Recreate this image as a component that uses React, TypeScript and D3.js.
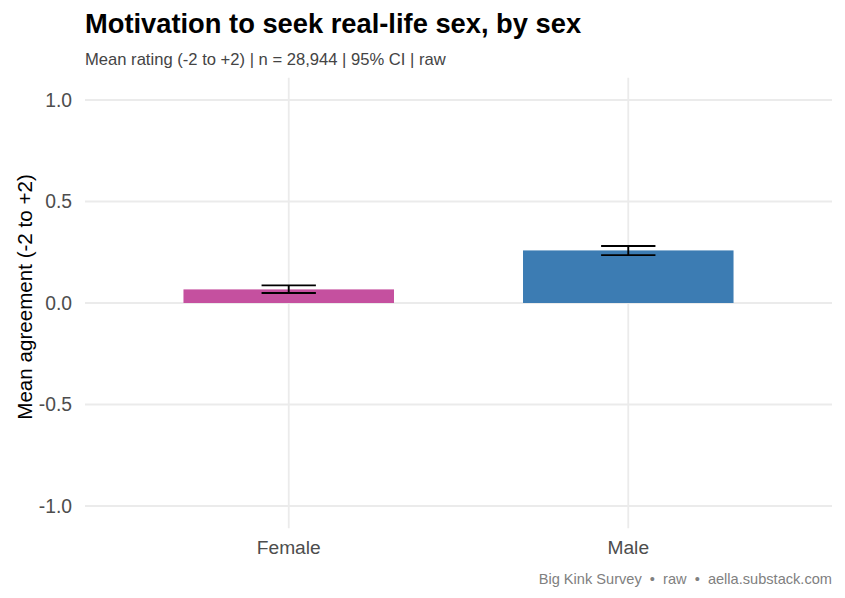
import React from 'react';
import * as d3 from 'd3';

const categories = ['Female', 'Male'];
const means = [0.067, 0.259];
const ciLow = [0.049, 0.236];
const ciHigh = [0.087, 0.281];
const barColors = ['#C5509F', '#3C7CB3'];
const yTicks = [-1.0, -0.5, 0.0, 0.5, 1.0];

const W = 845;
const H = 598;
const font = 'Liberation Sans, Arial, sans-serif';

const App: React.FC = () => {
  const left = 85;
  const right = 832;

  // discrete scale with ggplot-like 0.6 expansion
  const x = d3.scaleLinear().domain([0.4, 2.6]).range([left, right]);
  const y = d3.scaleLinear().domain([-1, 1]).range([506, 100]);
  const panelTop = y(1.11);
  const panelBottom = y(-1.11);
  const barW = (x(2) - x(1)) * 0.62;
  const capW = (x(2) - x(1)) * 0.16;
  const fmt = (t: number) => d3.format('.1f')(t).replace('\u2212', '-');

  return (
    <svg width={W} height={H} style={{ position: 'absolute', left: 0, top: 0, background: '#fff' }}>
      <rect width={W} height={H} fill="#fff" />
      {/* grid */}
      {yTicks.map(t => (
        <line key={'gy' + t} x1={left} x2={right} y1={y(t)} y2={y(t)} stroke="#EBEBEB" strokeWidth={1.8} />
      ))}
      {categories.map((c, i) => (
        <line key={'gx' + c} x1={x(i + 1)} x2={x(i + 1)} y1={panelTop} y2={panelBottom} stroke="#EBEBEB" strokeWidth={1.8} />
      ))}
      {/* bars */}
      {categories.map((c, i) => (
        <rect
          key={'b' + c}
          x={x(i + 1) - barW / 2}
          width={barW}
          y={y(Math.max(0, means[i]))}
          height={Math.abs(y(means[i]) - y(0))}
          fill={barColors[i]}
        />
      ))}
      {/* error bars */}
      {categories.map((c, i) => {
        const cx = x(i + 1);
        return (
          <g key={'e' + c} stroke="#000" strokeWidth={1.9}>
            <line x1={cx - capW / 2} x2={cx + capW / 2} y1={y(ciHigh[i])} y2={y(ciHigh[i])} />
            <line x1={cx - capW / 2} x2={cx + capW / 2} y1={y(ciLow[i])} y2={y(ciLow[i])} />
            <line x1={cx} x2={cx} y1={y(ciHigh[i])} y2={y(ciLow[i])} />
          </g>
        );
      })}
      {/* y tick labels */}
      {yTicks.map(t => (
        <text key={'ty' + t} x={72} y={y(t)} dy="0.36em" textAnchor="end" fontFamily={font} fontSize={19.3} fill="#4D4D4D">
          {fmt(t)}
        </text>
      ))}
      {/* x tick labels */}
      {categories.map((c, i) => (
        <text key={'tx' + c} x={x(i + 1)} y={554} textAnchor="middle" fontFamily={font} fontSize={19.2} fill="#4D4D4D">
          {c}
        </text>
      ))}
      {/* y axis title */}
      <text
        transform={`translate(32,297) rotate(-90)`}
        textAnchor="middle"
        fontFamily={font}
        fontSize={20.6}
        fill="#000"
      >
        Mean agreement (-2 to +2)
      </text>
      {/* title & subtitle */}
      <text x={85} y={33} fontFamily={font} fontSize={27.3} fontWeight="bold" fill="#000">
        Motivation to seek real-life sex, by sex
      </text>
      <text x={85} y={64.5} fontFamily={font} fontSize={16.6} fill="#444">
        Mean rating (-2 to +2) | n = 28,944 | 95% CI | raw
      </text>
      {/* caption */}
      <text x={832} y={584} textAnchor="end" fontFamily={font} fontSize={14.6} fill="#808080" style={{ whiteSpace: 'pre' }}>
        {'Big Kink Survey  \u2022  raw  \u2022  aella.substack.com'}
      </text>
    </svg>
  );
};

export default App;
